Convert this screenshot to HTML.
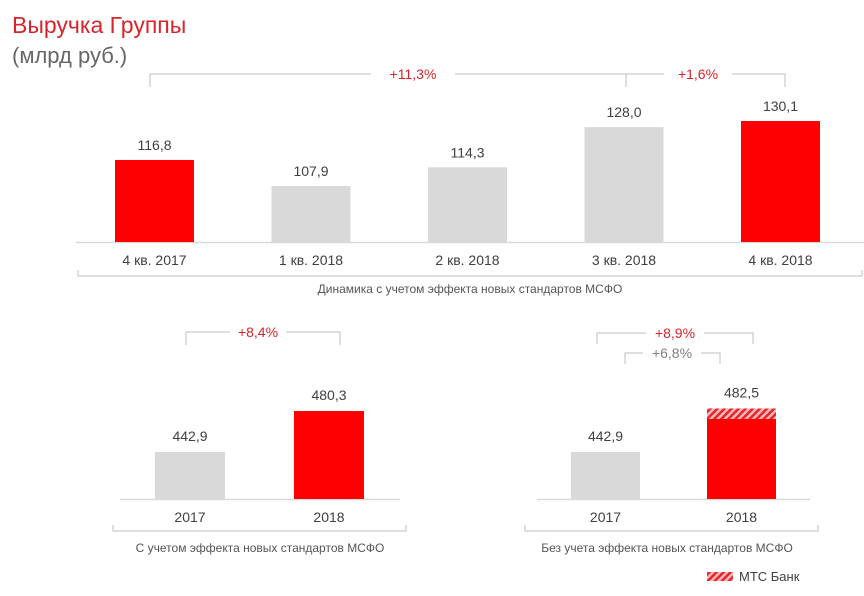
<!DOCTYPE html>
<html><head><meta charset="utf-8">
<style>
html,body{margin:0;padding:0;background:#fff;}
svg{display:block;font-family:"Liberation Sans","Noto Sans CJK SC",sans-serif;}
</style></head>
<body>
<svg id="c" width="864" height="596" viewBox="0 0 864 596" xmlns="http://www.w3.org/2000/svg">
<defs>
<pattern id="hatch" patternUnits="userSpaceOnUse" width="5" height="5" patternTransform="rotate(45)">
<rect width="5" height="5" fill="#f6b8b8"/><rect width="2.5" height="5" fill="#e8252b"/>
</pattern>
</defs>
<text x="12" y="33" font-size="23" fill="#d8242a">Выручка Группы</text>
<text x="12" y="63" font-size="22" fill="#666">(млрд руб.)</text>
<g id="g"></g>
</svg>
<script>
// Top chart data
const qCategories = ["4 кв. 2017","1 кв. 2018","2 кв. 2018","3 кв. 2018","4 кв. 2018"];
const qValues = [116.8,107.9,114.3,128.0,130.1];
const qLabels = ["116,8","107,9","114,3","128,0","130,1"];
const qHighlight = [true,false,false,false,true];
// Bottom left data
const ifrsCategories = ["2017","2018"];
const ifrsValues = [442.9,480.3];
const ifrsLabels = ["442,9","480,3"];
// Bottom right data
const noIfrsCategories = ["2017","2018"];
const noIfrsValues = [442.9,482.5];
const noIfrsLabels = ["442,9","482,5"];
const mtsBankValues = [0,9.5];

const NS="http://www.w3.org/2000/svg";
const g=document.getElementById('g');
function el(tag,attrs,parent){const e=document.createElementNS(NS,tag);for(const k in attrs)e.setAttribute(k,attrs[k]);(parent||g).appendChild(e);return e;}
function txt(x,y,s,size,fill,anchor){const t=el('text',{x:x,y:y,'font-size':size,fill:fill,'text-anchor':anchor||'middle'});t.textContent=s;return t;}
const RED="#ff0000", GREY="#d9d9d9", LINE="#bfbfbf", TXT="#404040";

// ---- top chart ----
const tBase=242;
function yTop(v){return tBase-2.93*(v-88.8);}
const tStart=115, tStep=156.5, tW=79;
let l=el('line',{x1:76,y1:tBase+0.5,x2:864,y2:tBase+0.5,stroke:"#d9d9d9","stroke-width":1.5});

qValues.forEach((v,i)=>{
  const x=tStart+i*tStep, y=yTop(v);
  const r=el('rect',{x:x,y:y,width:tW,height:tBase-y,fill:qHighlight[i]?RED:GREY});
  
  
  const t=txt(x+tW/2,y-10,qLabels[i],14,TXT);
  
  const c=txt(x+tW/2,265,qCategories[i],14,TXT);
  
});
function bracketBelow(x1,x2,y,name){
  const p=el('path',{d:`M${x1} ${y-6}V${y}H${x2}V${y-6}`,fill:"none",stroke:LINE,"stroke-width":1});
  
}
bracketBelow(78,862,276,'top-caption-bracket');
let cap=txt(470,293,"Динамика с учетом эффекта новых стандартов МСФО",12,"#555");


function bracketAbove(x1,x2,y,drop,label,color,gapC,gapW,name){
  const p=el('path',{d:`M${x1} ${y+drop}V${y}H${gapC-gapW/2}M${gapC+gapW/2} ${y}H${x2}V${y+drop}`,fill:"none",stroke:LINE,"stroke-width":1});
  
  const t=txt(gapC,y+5,label,14,color);
  
}
bracketAbove(150,626,74,13,"+11,3%","#d8242a",413,84,'growth-bracket-yoy');
bracketAbove(626,785,74,13,"+1,6%","#d8242a",698,68,'growth-bracket-qoq');

// ---- bottom charts ----
const bBase=499;
function yB(v){return bBase-1.096*(v-400);}
function bottomChart(cats,vals,labels,x0,step,w,baseX1,baseX2,prefix,bank){
  let b=el('line',{x1:baseX1,y1:bBase+0.5,x2:baseX2,y2:bBase+0.5,stroke:"#d9d9d9","stroke-width":1.5});
  
  vals.forEach((v,i)=>{
    const x=x0+i*step, y=yB(v);
    const r=el('rect',{x:x,y:y,width:w,height:bBase-y,fill:i===1?RED:GREY});
    
    if(bank&&bank[i]>0){
      const hy=yB(v), hh=1.096*bank[i];
      const h=el('rect',{x:x,y:hy,width:w,height:hh,fill:"url(#hatch)"});
      
    }
    const t=txt(x+w/2,y-11,labels[i],14,TXT);
    
    const c=txt(x+w/2,522,cats[i],14,TXT);
    
  });
}
bottomChart(ifrsCategories,ifrsValues,ifrsLabels,155,139,70,120,400,'ifrs');
bracketBelow(113,406,531,'ifrs-caption-bracket');
cap=txt(260,552,"С учетом эффекта новых стандартов МСФО",12,"#555");

bracketAbove(186,340,332,13,"+8,4%","#d8242a",258,56,'ifrs-growth-bracket');

bottomChart(noIfrsCategories,noIfrsValues,noIfrsLabels,571,136,69,537,810,'no-ifrs',mtsBankValues);
bracketBelow(525,818,531,'no-ifrs-caption-bracket');
cap=txt(667,552,"Без учета эффекта новых стандартов МСФО",12,"#555");

bracketAbove(597,753,333,11,"+8,9%","#d8242a",675,58,'no-ifrs-growth-bracket');
bracketAbove(625,720,353,11,"+6,8%","#808080",672,58,'no-ifrs-organic-bracket');

// legend
let lg=el('rect',{x:707,y:572,width:26,height:9,fill:"url(#hatch)"});

let lt=txt(739,581,"МТС Банк",13,TXT,'start');

</script>
</body></html>
